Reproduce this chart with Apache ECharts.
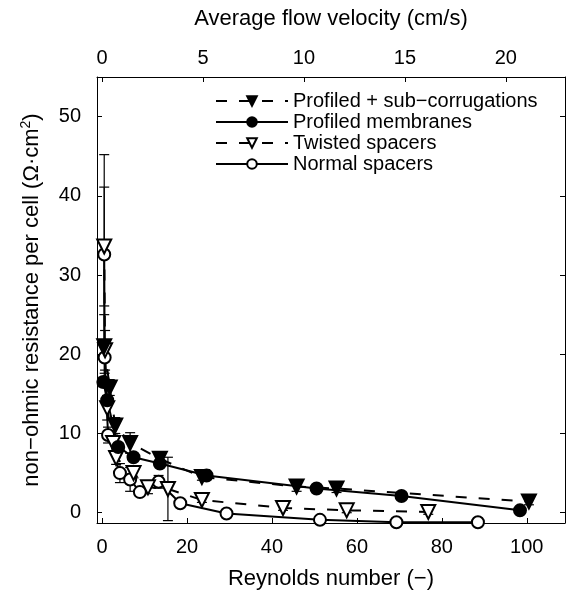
<!DOCTYPE html>
<html>
<head>
<meta charset="utf-8">
<script src="https://cdn.jsdelivr.net/npm/echarts@6/dist/echarts.min.js"></script>
<style>
  html, body { margin: 0; padding: 0; background: #fff; }
  #chart { width: 568px; height: 590px; }
</style>
</head>
<body>
<div id="chart"></div>
<script>
// Profiled + sub-corrugations
const reSub = [0.5, 1.8, 3.1, 6.6, 13.6, 23.5, 45.8, 55.2, 100.5];
const resSub = [21.0, 15.8, 11.0, 8.8, 6.8, 4.5, 3.3, 3.05, 1.4];
const errSub = [4.0, 1.0, 1.0, 1.3, 0.6, 0.4, 0.6, 0.5, 0.4];

// Profiled membranes
const reProf = [0.3, 1.2, 3.8, 7.4, 13.6, 24.6, 50.5, 70.5, 98.4];
const resProf = [16.5, 14.2, 8.3, 7.0, 6.2, 4.7, 3.05, 2.1, 0.3];
const errProf = [0.6, 0.6, 0.5, 0.4, 0.4, 0.3, 0.3, 0.3, 0.3];

// Twisted spacers
const reTwist = [0.5, 0.7, 1.2, 2.6, 3.3, 7.4, 10.8, 15.5, 23.5, 42.6, 57.6, 76.8];
const resTwist = [33.6, 20.5, 13.2, 8.8, 6.9, 5.0, 3.2, 3.0, 1.6, 0.6, 0.3, 0.1];
const errTwist = [7.5, 2.5, 1.5, 1.0, 0.8, 0.6, 0.8, 4.0, 0.3, 0.3, 0.3, 0.3];

// Normal spacers
const reNorm = [0.5, 0.6, 1.4, 4.2, 6.6, 8.9, 13.3, 18.4, 29.3, 51.3, 69.3, 88.5];
const resNorm = [32.6, 19.6, 9.8, 5.0, 4.2, 2.6, 3.9, 1.2, -0.1, -0.9, -1.2, -1.2];
const errNorm = [12.6, 2.0, 1.0, 1.2, 1.5, 0.5, 0.8, 0.3, 0.2, 0.2, 0.2, 0.2];

const seriesNames = ['Profiled + sub\u2212corrugations', 'Profiled membranes', 'Twisted spacers', 'Normal spacers'];

// axis ranges
const reMin = -1.2, reMax = 109;
const velMin = -0.25, velMax = 22.93;
const resMin = -1.3, resMax = 55;

const font = 'Liberation Sans, Arial, sans-serif';

function pairs(xs, ys) {
  return xs.map((x, i) => [x, ys[i]]);
}
function triples(xs, ys, es) {
  return xs.map((x, i) => [x, ys[i], es[i]]);
}

function errorBar(params, api) {
  const x = api.value(0), y = api.value(1), e = api.value(2);
  const top = api.coord([x, y + e]);
  const bot = api.coord([x, y - e]);
  const half = 5;
  const style = { stroke: '#000', lineWidth: 1.2 };
  return {
    type: 'group',
    children: [
      { type: 'line', shape: { x1: top[0], y1: top[1], x2: bot[0], y2: bot[1] }, style: style },
      { type: 'line', shape: { x1: top[0] - half, y1: top[1], x2: top[0] + half, y2: top[1] }, style: style },
      { type: 'line', shape: { x1: bot[0] - half, y1: bot[1], x2: bot[0] + half, y2: bot[1] }, style: style }
    ]
  };
}

function lineSeries(name, data, dashed, symbol, filled, rotate) {
  return {
    name: name,
    type: 'line',
    data: data,
    symbol: symbol,
    symbolSize: symbol === 'circle' ? 12 : 14,
    symbolRotate: rotate,
    showAllSymbol: true,
    z: 3,
    lineStyle: { color: '#000', width: 2, type: dashed ? [11, 12] : 'solid' },
    itemStyle: { color: filled ? '#000' : '#fff', borderColor: '#000', borderWidth: 2 },
    emphasis: { disabled: true },
    animation: false
  };
}

function errSeries(data) {
  return {
    type: 'custom',
    renderItem: errorBar,
    data: data,
    encode: { x: 0, y: 1 },
    z: 2,
    silent: true,
    animation: false
  };
}

const axisCommon = {
  axisLine: { onZero: false, lineStyle: { color: '#000', width: 1 } },
  axisTick: { inside: true, length: 5, lineStyle: { color: '#000' } },
  splitLine: { show: false },
  axisLabel: { color: '#000', fontSize: 20, fontFamily: font, showMinLabel: false, showMaxLabel: false }
};

const chart = echarts.init(document.getElementById('chart'));
chart.setOption({
  animation: false,
  textStyle: { fontFamily: font },
  grid: { left: 97, right: 3, top: 77, bottom: 67, outerBoundsMode: 'none', containLabel: false },
  legend: {
    data: seriesNames,
    orient: 'vertical',
    left: 210,
    top: 86,
    itemWidth: 72,
    itemHeight: 12,
    itemGap: 1,
    textStyle: { fontSize: 20, color: '#000', fontFamily: font },
    selectedMode: false
  },
  xAxis: [
    Object.assign({}, axisCommon, {
      type: 'value', position: 'bottom', min: reMin, max: reMax, splitNumber: 5,
      name: 'Reynolds number (\u2212)', nameLocation: 'middle', nameGap: 45,
      nameTextStyle: { fontSize: 22, color: '#000' },
      axisLabel: Object.assign({}, axisCommon.axisLabel, { margin: 14 })
    }),
    Object.assign({}, axisCommon, {
      type: 'value', position: 'top', min: velMin, max: velMax, splitNumber: 5,
      name: 'Average flow velocity (cm/s)', nameLocation: 'middle', nameGap: 47,
      nameTextStyle: { fontSize: 22, color: '#000' },
      axisLabel: Object.assign({}, axisCommon.axisLabel, { margin: 9 })
    })
  ],
  yAxis: [
    Object.assign({}, axisCommon, {
      type: 'value', position: 'left', min: resMin, max: resMax, splitNumber: 5,
      name: 'non\u2212ohmic resistance per cell (\u03A9\u00B7cm{sup|2})', nameLocation: 'middle', nameGap: 52,
      nameTextStyle: {
        fontSize: 22, color: '#000',
        rich: { sup: { fontSize: 14, color: '#000', padding: [0, 0, 12, 0] } }
      },
      axisLabel: Object.assign({}, axisCommon.axisLabel, { margin: 16 })
    }),
    Object.assign({}, axisCommon, {
      type: 'value', position: 'right', min: resMin, max: resMax, splitNumber: 5,
      axisLabel: { show: false }
    })
  ],
  series: [
    errSeries(triples(reSub, resSub, errSub)),
    errSeries(triples(reProf, resProf, errProf)),
    errSeries(triples(reTwist, resTwist, errTwist)),
    errSeries(triples(reNorm, resNorm, errNorm)),
    lineSeries(seriesNames[3], pairs(reNorm, resNorm), false, 'circle', false, 0),
    lineSeries(seriesNames[2], pairs(reTwist, resTwist), true, 'triangle', false, 180),
    lineSeries(seriesNames[1], pairs(reProf, resProf), false, 'circle', true, 0),
    lineSeries(seriesNames[0], pairs(reSub, resSub), true, 'triangle', true, 180)
  ]
});
</script>
</body>
</html>
